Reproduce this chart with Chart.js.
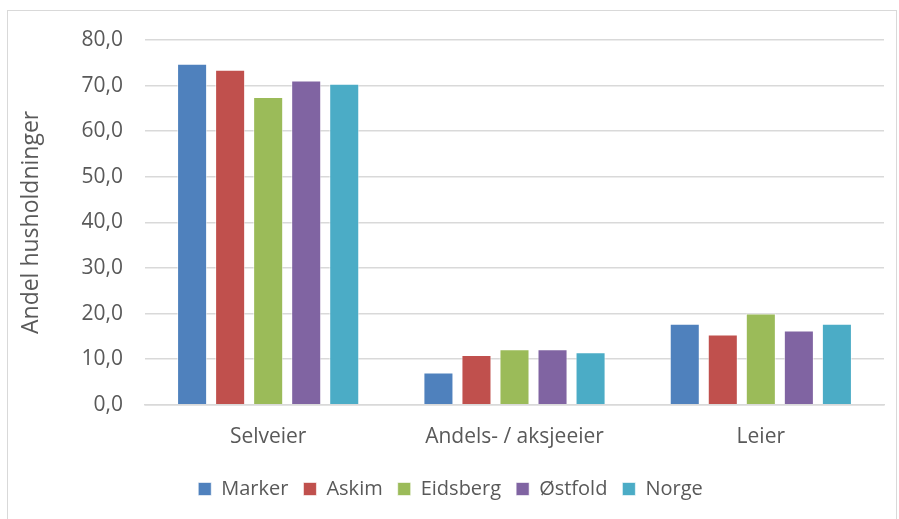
<!DOCTYPE html>
<html>
<head>
<meta charset="utf-8">
<script src="https://cdn.jsdelivr.net/npm/chart.js@4/dist/chart.umd.min.js"></script>
<style>
  body { margin: 0; background: #fff; }
  #frame { position: absolute; left: 7px; top: 10px; width: 890px; height: 520px; border: 1px solid #d9d9d9; box-sizing: border-box; }
  #wrap { position: absolute; left: 0; top: 0; width: 899px; height: 519px; }
</style>
</head>
<body>
<div id="frame"></div>
<div id="wrap"><canvas id="boligChart" width="899" height="519"></canvas></div>
<script>
// Eierform, andel husholdninger (%)
const categories = ['Selveier', 'Andels- / aksjeeier', 'Leier'];
const seriesNames = ['Marker', 'Askim', 'Eidsberg', 'Østfold', 'Norge'];
const marker = [74.8, 7.1, 17.8];
const askim = [73.5, 10.9, 15.4];
const eidsberg = [67.5, 12.2, 20.0];
const ostfold = [71.1, 12.2, 16.3];
const norge = [70.4, 11.5, 17.8];
const colors = ['#4F81BD', '#C0504D', '#9BBB59', '#8064A2', '#4BACC6'];

const textColor = '#595959';
const gridColor = '#d9d9d9';
const font = { family: 'Open Sans', size: 21 };

const values = [marker, askim, eidsberg, ostfold, norge];

const ctx = document.getElementById('boligChart').getContext('2d');
new Chart(ctx, {
    type: 'bar',
    data: {
        labels: categories,
        datasets: seriesNames.map((name, i) => ({
            label: name,
            data: values[i],
            backgroundColor: colors[i],
            borderColor: 'rgba(255,255,255,0.6)',
            borderWidth: 1,
            categoryPercentage: 0.772,
            barPercentage: 0.79
        }))
    },
    options: {
        responsive: false,
        animation: false,
        layout: {
            padding: { left: 17, right: 15, top: 40, bottom: 10 }
        },
        plugins: {
            legend: {
                position: 'bottom',
                labels: {
                    color: textColor,
                    font: { family: 'Open Sans', size: 20 },
                    boxWidth: 13,
                    boxHeight: 13,
                    padding: 15
                }
            },
            tooltip: { enabled: false }
        },
        scales: {
            y: {
                min: 0,
                max: 80,
                ticks: {
                    stepSize: 10,
                    color: textColor,
                    font: font,
                    padding: 22,
                    callback: v => v.toFixed(1).replace('.', ',')
                },
                grid: { color: gridColor, lineWidth: 1.5, drawTicks: false },
                border: { display: false },
                title: {
                    display: true,
                    text: 'Andel husholdninger',
                    color: textColor,
                    font: { family: 'Open Sans', size: 23 },
                    padding: 1
                },
                afterFit: scale => { scale.width = 128; }
            },
            x: {
                ticks: { color: textColor, font: font, padding: 20 },
                grid: { display: false, drawTicks: false },
                border: { color: gridColor, width: 1.5 },
                afterFit: scale => { scale.height -= 6; }
            }
        }
    }
});
</script>
</body>
</html>
